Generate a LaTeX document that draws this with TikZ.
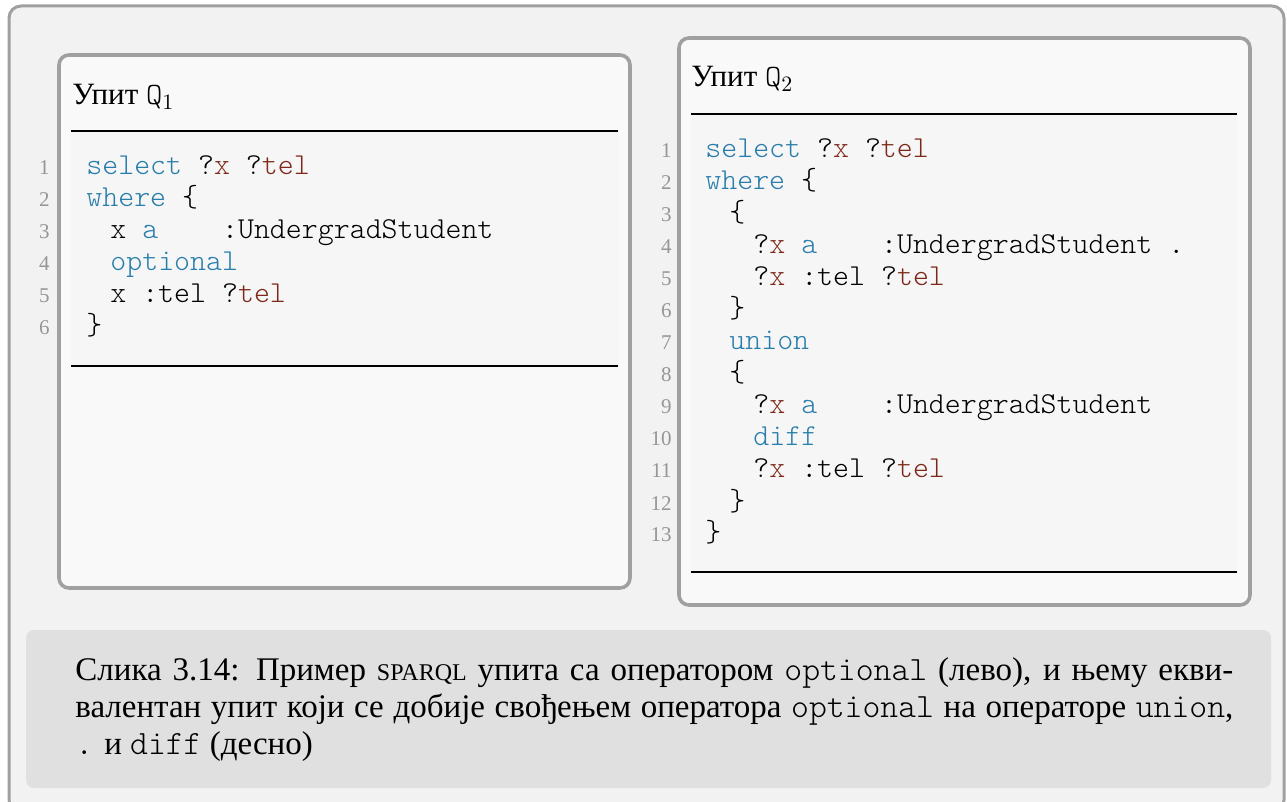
\documentclass[tikz,border=0pt]{standalone}
\usepackage{fontspec}
\setmainfont{Liberation Serif}
\setmonofont{Latin Modern Mono Light}
\usetikzlibrary{positioning}
\definecolor{framegray}{RGB}{160,160,160}
\definecolor{outerbg}{RGB}{242,242,242}
\definecolor{boxbg}{RGB}{249,249,249}
\definecolor{codebg}{RGB}{246,246,246}
\definecolor{captionbg}{RGB}{224,224,224}
\definecolor{kwblue}{RGB}{40,125,170}
\definecolor{varred}{RGB}{125,40,25}
\definecolor{numgray}{RGB}{150,150,150}
\newcommand{\kw}[1]{\textcolor{kwblue}{#1}}
\newcommand{\sqvar}[1]{\textcolor{varred}{#1}}
\newcommand{\captt}[1]{{\fontsize{17}{18.5}\ttfamily #1}}

\begin{document}
\begin{tikzpicture}[x=0.5pt, y=-0.5pt,
  querybox/.style={draw=framegray, line width=1.8pt, fill=boxbg, rounded corners=5pt},
  coderule/.style={line width=0.7pt},
  codeline/.style={anchor=base west, inner sep=0pt, font=\fontsize{15.2}{16}\ttfamily},
  lineno/.style={anchor=base east, inner sep=0pt, text=numgray, font=\fontsize{10.5}{12}\rmfamily},
  qtitle/.style={anchor=base west, inner sep=0pt, font=\fontsize{15.5}{18}\selectfont}]
  \useasboundingbox (0,0) rectangle (1287,802);
  \clip (0,0) rectangle (1287,802);

  % outer frame
  \draw[draw=framegray, line width=1.5pt, fill=outerbg, rounded corners=6pt] (9,6) rectangle (1284,812);

  % left query
  \draw[querybox] (59,55) rectangle (630,588);
  \fill[codebg] (71,131) rectangle (618,366);
  \draw[coderule] (71,131) -- (618,131);
  \draw[coderule] (71,366) -- (618,366);
  \node[qtitle] (q1title) at (72,105) {Упит \texttt{Q}$_1$};
  \foreach \n/\ind/\code in {
    1/0/{\kw{select} ?\sqvar{x} ?\sqvar{tel}},
    2/0/{\kw{where} \{},
    3/1/{x \kw{a}~~~~:UndergradStudent},
    4/1/{\kw{optional}},
    5/1/{x :tel ?\sqvar{tel}},
    6/0/{\}}}{
    \node[codeline] (q1l\n) at ({86+24*\ind},{175+32*(\n-1)}) {\code};
    \node[lineno] (q1n\n) at (50,{175+32*(\n-1)}) {\n};
  }

  % right query
  \draw[querybox] (679,38) rectangle (1250,605);
  \fill[codebg] (691,114) rectangle (1237,572);
  \draw[coderule] (691,114) -- (1237,114);
  \draw[coderule] (691,572) -- (1237,572);
  \node[qtitle] (q2title) at (691,87) {Упит \texttt{Q}$_2$};
  \foreach \n/\ind/\code in {
    1/0/{\kw{select} ?\sqvar{x} ?\sqvar{tel}},
    2/0/{\kw{where} \{},
    3/1/{\{},
    4/2/{?\sqvar{x} \kw{a}~~~~:UndergradStudent .},
    5/2/{?\sqvar{x} :tel ?\sqvar{tel}},
    6/1/{\}},
    7/1/{\kw{union}},
    8/1/{\{},
    9/2/{?\sqvar{x} \kw{a}~~~~:UndergradStudent},
    10/2/{\kw{diff}},
    11/2/{?\sqvar{x} :tel ?\sqvar{tel}},
    12/1/{\}},
    13/0/{\}}}{
    \node[codeline] (q2l\n) at ({705+24*\ind},{158+32*(\n-1)}) {\code};
    \node[lineno] (q2n\n) at (672,{158+32*(\n-1)}) {\n};
  }

  % caption
  \fill[captionbg, rounded corners=4pt] (26,630) rectangle (1271,788);
  \node[anchor=north west, text width=579pt, align=justify, inner sep=0pt,
        font=\fontsize{16.5}{18.5}\selectfont] (caption) at (75,657)
    {Слика 3.14: Пример {\fontsize{12}{12}\selectfont SPARQL} упита са оператором \captt{optional} (лево), и њему екви-\linebreak
     валентан упит који се добије свођењем оператора \captt{optional} на операторе \captt{union},\linebreak
     \captt{.} и \captt{diff} (десно)};
\end{tikzpicture}
\end{document}
